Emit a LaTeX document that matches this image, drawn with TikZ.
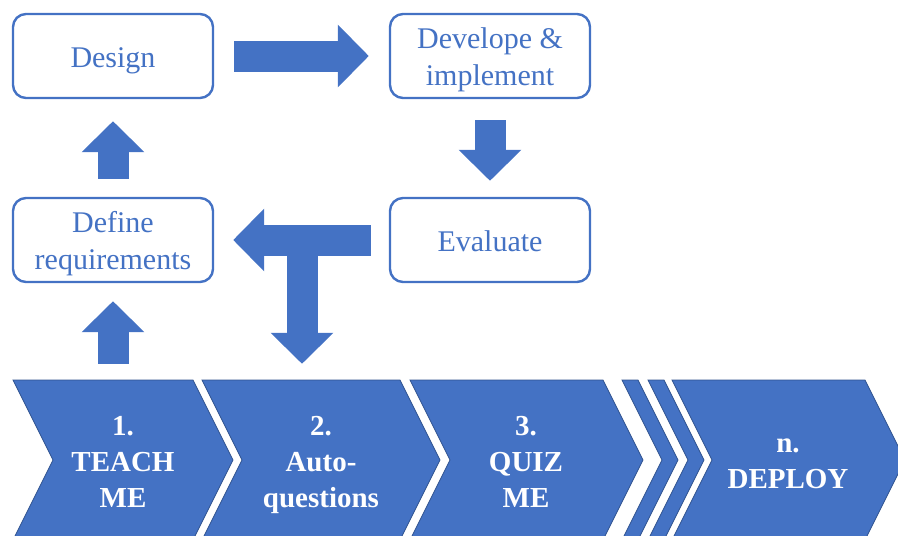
\documentclass[tikz,border=0pt]{standalone}
\usepackage{fontspec}
\setmainfont{Liberation Serif}
\usetikzlibrary{arrows.meta}
\definecolor{stageblue}{RGB}{68,114,196}
\definecolor{stageedge}{RGB}{47,82,143}
\tikzset{
  box/.style={rectangle,rounded corners=13pt,draw=stageblue,line width=2.4pt,fill=white,
              text=stageblue,align=center,minimum width=200pt,minimum height=84pt,
              font=\fontsize{30}{37}\selectfont,text height=22pt,text depth=0pt},
  box2/.style={box,text height=59pt},
  chev/.style={fill=stageblue,draw=stageedge,line width=0.8pt},
  lbl/.style={align=center,text=white,inner sep=0pt,minimum height=160pt,
              font=\fontsize{29}{36}\selectfont\bfseries,text height=97pt,text depth=3pt},
  lbl2/.style={lbl,text height=61pt,text depth=5pt},
  bar/.style={line width=31pt,draw=stageblue,-{Triangle[length=31pt,width=61pt]}},
}
\newcommand{\chevshape}[2]{%
  \draw[chev] (#1,380) -- ++(#2,0) -- ++(40,80) -- ++(-40,80) -- ++(-#2,0) -- ++(40,-80) -- cycle;}

\begin{document}
\begin{tikzpicture}[x=1pt,y=-1pt]
  \useasboundingbox (0,0) rectangle (898,536);
  \clip (0,0) rectangle (898,536);
  \node[box]  (design)    at (113,56)  {Design};
  \node[box2] (devimp)    at (490,56)  {Develope \&\\implement};
  \node[box2] (definereq) at (113,240) {Define\\requirements};
  \node[box]  (evaluate)  at (490,240) {Evaluate};
  % process chevrons along the bottom
  \chevshape{13}{180}
  \chevshape{202}{198}
  \chevshape{410}{193}
  \chevshape{622}{16}
  \chevshape{648}{16}
  \chevshape{672}{193}
  \node[lbl]  (teach)  at (123,460) {1.\\TEACH\\ME};
  \node[lbl]  (autoq)  at (321,460) {2.\\Auto-\\questions};
  \node[lbl]  (quiz)   at (526,460) {3.\\QUIZ\\ME};
  \node[lbl2] (deploy) at (788,460) {n.\\DEPLOY};
  % block arrows of the loop
  \draw[bar,shorten <=20pt,shorten >=20pt] (design) -- (devimp);
  \draw[bar,shorten <=21pt,shorten >=16pt] (devimp) -- (evaluate);
  \draw[bar,shorten <=18pt,shorten >=22pt] (definereq) -- (design);
  \draw[bar,shorten <=16pt,shorten >=18pt] (definereq |- teach.north) -- (definereq.south);
  % T-shaped split: back to requirements and down to stage 2
  \draw[bar,shorten <=18pt,shorten >=19pt] (evaluate) -- (definereq);
  \coordinate (tee) at (302,240);
  \draw[bar,shorten >=16pt] (tee) -- (tee |- autoq.north);
\end{tikzpicture}
\end{document}
